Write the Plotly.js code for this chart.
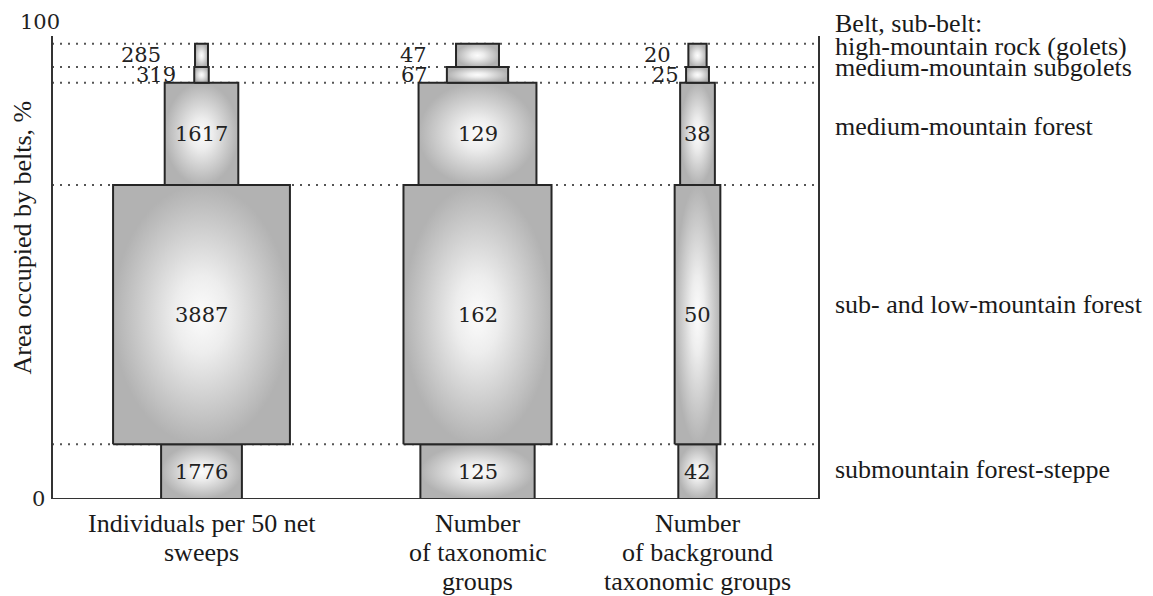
<!DOCTYPE html>
<html>
<head>
<meta charset="utf-8">
<script src="https://cdn.plot.ly/plotly-3.0.1.min.js"></script>
<style>html,body{margin:0;padding:0;background:#fff;}#chart{width:1153px;height:596px;}</style>
</head>
<body>
<div id="chart"></div>
<script>
// ---- data (bottom belt first) ----
const belts = ["submountain forest-steppe", "sub- and low-mountain forest", "medium-mountain forest", "medium-mountain subgolets", "high-mountain rock (golets)"];
const beltArea = [11.8, 56.0, 22.1, 3.4, 5.0];          // % of area occupied by each belt
const individuals = [1776, 3887, 1617, 319, 285];       // individuals per 50 net sweeps
const taxonGroups = [125, 162, 129, 67, 47];            // number of taxonomic groups
const backgroundGroups = [42, 50, 38, 25, 20];          // number of background taxonomic groups
const categoryLines = [["Individuals per 50 net", "sweeps"], ["Number", "of taxonomic", "groups"], ["Number", "of background", "taxonomic groups"]];
const yTicks = [0, 100];
const headerText = "Belt, sub-belt:";
const yTitle = "Area occupied by belts, %";

// ---- layout constants ----
const columns = [individuals, taxonGroups, backgroundGroups];
const colCenter = [149.5, 425.5, 645.5];      // x positions (axis units)
const colScale = [0.0455, 0.914, 0.914];      // width per unit of value
const outsideGap = [[16, 32], [17, 27], [5, 15]]; // label gaps for top two belts
const numFont = {family: "DejaVu Serif", size: 21, color: "#222"};
const txtFont = {family: "Liberation Serif", size: 26, color: "#1a1a1a"};

// cumulative belt bounds
const bottoms = [];
let acc = 0;
beltArea.forEach(a => { bottoms.push(acc); acc += a; });
const tops = bottoms.map((b, i) => b + beltArea[i]);

const traces = [];
const annotations = [];
const shapes = [];

// dotted belt boundaries
tops.forEach(t => {
  shapes.push({type: "line", xref: "paper", x0: 0, x1: 1, yref: "y", y0: t, y1: t,
    line: {color: "#555", width: 2, dash: "2px,6px"}, layer: "below"});
});

columns.forEach((vals, c) => {
  vals.forEach((v, b) => {
    const half = v * colScale[c] / 2;
    const x0 = colCenter[c] - half, x1 = colCenter[c] + half;
    const y0 = bottoms[b], y1 = tops[b];
    traces.push({
      type: "scatter", mode: "lines",
      x: [x0, x1, x1, x0, x0], y: [y0, y0, y1, y1, y0],
      fill: "toself",
      fillgradient: {type: "radial", colorscale: [[0, "#fcfcfc"], [0.3, "#ededed"], [1, "#b2b2b2"]]},
      line: {color: "#262626", width: 2},
      hoverinfo: "skip", showlegend: false
    });
    const yc = (y0 + y1) / 2;
    if (b < 3) {
      annotations.push({x: colCenter[c], y: yc, xref: "x", yref: "y", text: String(v),
        showarrow: false, font: numFont, xanchor: "center", yanchor: "middle"});
    } else {
      annotations.push({x: x0, y: yc, xref: "x", yref: "y", text: String(v),
        showarrow: false, font: numFont, xanchor: "right", yanchor: "middle",
        xshift: -outsideGap[c][b - 3]});
    }
  });
});

// axis frame (left, right, bottom)
const frameTop = 100;
shapes.push({type: "line", xref: "paper", x0: 0, x1: 0, yref: "y", y0: 0, y1: frameTop, line: {color: "#333", width: 2}});
shapes.push({type: "line", xref: "paper", x0: 1, x1: 1, yref: "y", y0: 0, y1: frameTop, line: {color: "#333", width: 2}});
shapes.push({type: "line", xref: "paper", x0: 0, x1: 1, yref: "y", y0: 0, y1: 0, line: {color: "#333", width: 2}});

// y tick labels
annotations.push({x: 0, y: yTicks[0], xref: "paper", yref: "y", text: String(yTicks[0]), showarrow: false,
  font: numFont, xanchor: "center", yanchor: "middle", xshift: -14});
annotations.push({x: 0, y: yTicks[1], xref: "paper", yref: "y", text: String(yTicks[1]), showarrow: false,
  font: numFont, xanchor: "center", yanchor: "middle", xshift: -12, yshift: 14});

// y title
annotations.push({x: 0, y: 0.565, xref: "paper", yref: "paper", text: yTitle, showarrow: false,
  font: txtFont, textangle: -90, xanchor: "center", yanchor: "middle", xshift: -30});

// belt labels on the right
const beltShift = [2, 10, 7, 7, 9];
belts.forEach((name, b) => {
  annotations.push({x: 1, y: (bottoms[b] + tops[b]) / 2, xref: "paper", yref: "y", text: name, showarrow: false,
    font: txtFont, xanchor: "left", yanchor: "middle", xshift: 14, yshift: beltShift[b]});
});
annotations.push({x: 1, y: 100, xref: "paper", yref: "y", text: headerText, showarrow: false,
  font: txtFont, xanchor: "left", yanchor: "middle", xshift: 14, yshift: 13});

// category labels below
categoryLines.forEach((lines, c) => {
  lines.forEach((ln, i) => {
    annotations.push({x: colCenter[c], y: 0, xref: "x", yref: "paper", text: ln, showarrow: false,
      font: txtFont, xanchor: "center", yanchor: "middle", yshift: -24 - 29 * i});
  });
});

const layout = {
  width: 1153, height: 596,
  margin: {l: 52, r: 334, t: 36, b: 97},
  paper_bgcolor: "#fff", plot_bgcolor: "#fff",
  xaxis: {range: [0, 767], visible: false, fixedrange: true},
  yaxis: {range: [0, 100], visible: false, fixedrange: true},
  shapes: shapes, annotations: annotations, showlegend: false
};

Plotly.newPlot("chart", traces, layout, {staticPlot: true, displayModeBar: false});
</script>
</body>
</html>
